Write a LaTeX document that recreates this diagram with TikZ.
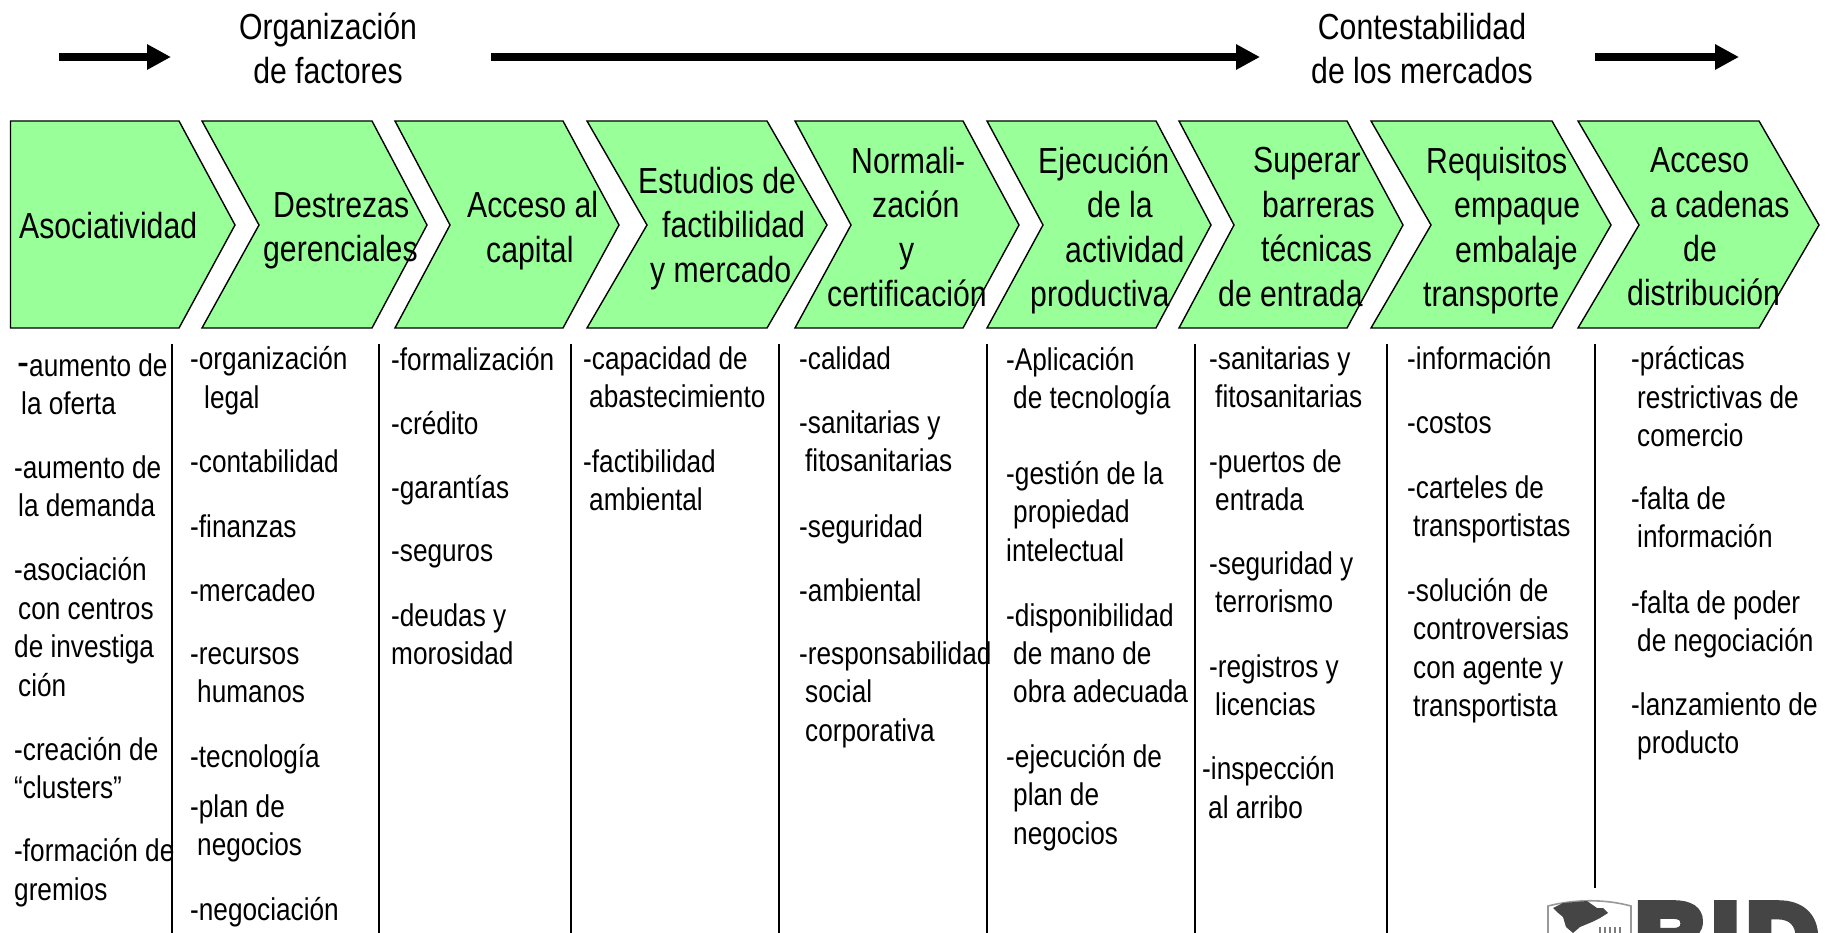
\documentclass[tikz,border=0pt]{standalone}
\usepackage{fontspec}
\setmainfont{Liberation Sans}
\newfontfamily\logofont[FakeBold=8]{Liberation Sans Bold}
\usetikzlibrary{arrows.meta}

\definecolor{chevgreen}{HTML}{99FF99}
\definecolor{logogray}{HTML}{454545}

\newcommand{\ind}[1]{\hspace*{#1pt}}

\tikzset{
  chev/.style={draw, line width=1.4pt, fill=chevgreen, line join=miter},
  bigarrow/.style={-{Triangle[length=24pt, width=24pt]}, line width=8pt},
  sep/.style={line width=1.6pt},
  head/.style={font=\fontsize{30.2}{37}\selectfont, align=left, anchor=west, inner sep=0pt, yscale=1.2, transform shape, execute at begin node=\strut},
  title/.style={font=\fontsize{30.2}{37}\selectfont, align=center, inner sep=0pt, yscale=1.2, transform shape, execute at begin node=\strut},
  item/.style={font=\fontsize{26.2}{32}\selectfont, align=left, anchor=north west, inner sep=0pt, yshift=5pt, yscale=1.2, transform shape, execute at begin node=\strut}
}

\begin{document}
\begin{tikzpicture}[x=1pt, y=-1pt]
\useasboundingbox (0, 0) rectangle (1835, 933);

% arrows on top
\coordinate (a1) at (59, 57);
\coordinate (a2) at (171, 57);
\coordinate (b1) at (491, 57);
\coordinate (b2) at (1260, 57);
\coordinate (c1) at (1595, 57);
\coordinate (c2) at (1739, 57);
\draw[bigarrow] (a1) -- (a2);
\draw[bigarrow] (b1) -- (b2);
\draw[bigarrow] (c1) -- (c2);

\node[title] (orgfact) at (328, 55) {Organización\\de factores};
\node[title] (contest) at (1422, 55) {Contestabilidad\\de los mercados};

% chevrons
\draw[chev] (10.5, 121) -- (179, 121) -- (235, 225) -- (179, 328) -- (10.5, 328) -- cycle;
\foreach \px/\sh/\tp/\nt in {202/170/225/57, 395/168/224/55, 587/180/240/60, 795/168/224/56, 987/169/224/56, 1179/168/224/55, 1371/181/240/60, 1578/181/241/61}
  \draw[chev] (\px, 121) -- (\px + \sh, 121) -- (\px + \tp, 225) -- (\px + \sh, 328) -- (\px, 328) -- (\px + \nt, 225) -- cycle;

\node[head] (asoc) at (19, 229.5) {Asociatividad};
\node[head] (destr) at (263, 233.5) {\ind{10}Destrezas\\gerenciales};
\node[head] (acceso) at (467, 233.5) {Acceso al\\\ind{19}capital};
\node[head] (estud) at (638, 231.5) {Estudios de\\\ind{24}factibilidad\\\ind{12}y mercado};
\node[head] (normal) at (827, 233.5) {\ind{24}Normali-\\\ind{45}zación\\\ind{72}y\\certificación};
\node[head] (ejec) at (1030, 233.5) {\ind{8}Ejecución\\\ind{57}de la\\\ind{35}actividad\\productiva};
\node[head] (barr) at (1218, 233.5) {\ind{35}Superar\\\ind{44}barreras\\\ind{43}técnicas\\de entrada};
\node[head] (empaq) at (1423, 233.5) {\ind{3}Requisitos\\\ind{31}empaque\\\ind{32}embalaje\\transporte};
\node[head] (cadenas) at (1627, 233.5) {\ind{23}Acceso\\\ind{23}a cadenas\\\ind{56}de\\distribución};

% separators
\foreach \px in {172, 379, 571, 779, 987, 1195, 1387}
  \draw[sep] (\px, 344) -- (\px, 933);
\draw[sep] (1595, 344) -- (1595, 888);

% first column
\node[item] (i11) at (17, 358) {{\fontsize{36}{32}\selectfont -}aumento de\\\ind{4}la oferta};
\node[item] (i12) at (14, 460.5) {-aumento de\\\ind{4}la demanda};
\node[item] (i13) at (14, 562.5) {-asociación\\\ind{4}con centros\\de investiga\\\ind{4}ción};
\node[item] (i14) at (14, 742) {-creación de\\“clusters”};
\node[item] (i15) at (14, 843.5) {-formación de\\gremios};

% second column
\node[item] (i21) at (190, 351.5) {-organización\\\ind{14}legal};
\node[item] (i22) at (190, 450) {-contabilidad};
\node[item] (i23) at (190, 515) {-finanzas};
\node[item] (i24) at (190, 579) {-mercadeo};
\node[item] (i25) at (190, 652) {-recursos\\\ind{7}humanos};
\node[item] (i26) at (190, 745) {-tecnología};
\node[item] (i27) at (190, 799.5) {-plan de\\\ind{7}negocios};
\node[item] (i28) at (190, 898) {-negociación};

% third column
\node[item] (i31) at (391, 348) {-formalización};
\node[item] (i32) at (391, 412) {-crédito};
\node[item] (i33) at (391, 476) {-garantías};
\node[item] (i34) at (391, 539) {-seguros};
\node[item] (i35) at (391, 608) {-deudas y\\morosidad};

% fourth column
\node[item] (i41) at (583, 351.5) {-capacidad de\\\ind{6}abastecimiento};
\node[item] (i42) at (583, 454.5) {-factibilidad\\\ind{6}ambiental};

% fifth column
\node[item] (i51) at (799, 347) {-calidad};
\node[item] (i52) at (799, 415.5) {-sanitarias y\\\ind{6}fitosanitarias};
\node[item] (i53) at (799, 515) {-seguridad};
\node[item] (i54) at (799, 579) {-ambiental};
\node[item] (i55) at (799, 646.5) {-responsabilidad\\\ind{6}social\\\ind{6}corporativa};

% sixth column
\node[item] (i61) at (1006, 352) {-Aplicación\\\ind{7}de tecnología};
\node[item] (i62) at (1006, 466) {-gestión de la\\\ind{7}propiedad\\intelectual};
\node[item] (i63) at (1006, 608) {-disponibilidad\\\ind{7}de mano de\\\ind{7}obra adecuada};
\node[item] (i64) at (1006, 749) {-ejecución de\\\ind{7}plan de\\\ind{7}negocios};

% seventh column
\node[item] (i71) at (1209, 351.5) {-sanitarias y\\\ind{6}fitosanitarias};
\node[item] (i72) at (1209, 454.5) {-puertos de\\\ind{6}entrada};
\node[item] (i73) at (1209, 556) {-seguridad y\\\ind{6}terrorismo};
\node[item] (i74) at (1209, 659.5) {-registros y\\\ind{6}licencias};
\node[item] (i75) at (1202, 761.5) {-inspección\\\ind{6}al arribo};

% eighth column
\node[item] (i81) at (1407, 347) {-información};
\node[item] (i82) at (1407, 411) {-costos};
\node[item] (i83) at (1407, 480.5) {-carteles de\\\ind{6}transportistas};
\node[item] (i84) at (1407, 583) {-solución de\\\ind{6}controversias\\\ind{6}con agente y\\\ind{6}transportista};

% ninth column
\node[item] (i91) at (1631, 351.5) {-prácticas\\\ind{6}restrictivas de\\\ind{6}comercio};
\node[item] (i92) at (1631, 491.5) {-falta de\\\ind{6}información};
\node[item] (i93) at (1631, 595) {-falta de poder\\\ind{6}de negociación};
\node[item] (i94) at (1631, 697.5) {-lanzamiento de\\\ind{6}producto};

% logo, cut by the page
\begin{scope}
\clip (1500, 880) rectangle (1835, 933);
\draw[logogray!55, line width=1.6pt] (1548, 933) -- (1548, 906) .. controls (1575, 899) and (1605, 899) .. (1631, 906) -- (1631, 933);
\fill[logogray] (1553, 908) -- (1563, 903) -- (1587, 901) -- (1597, 908) -- (1603, 908) -- (1608, 913) -- (1600, 918) -- (1592, 922) -- (1580, 927) -- (1573, 933) -- (1566, 927) -- (1563, 917) -- (1557, 912) -- cycle;
\foreach \px in {1600, 1605, 1610, 1615, 1620}
  \draw[logogray!70, line width=1.6pt] (\px, 933) -- (\px, 927);
\node[anchor=base west, inner sep=0pt, text=logogray, font=\fontsize{100}{100}\logofont] (bid) at (1635, 973) {B\kern4ptI\kern7ptD};
\end{scope}

\end{tikzpicture}
\end{document}
